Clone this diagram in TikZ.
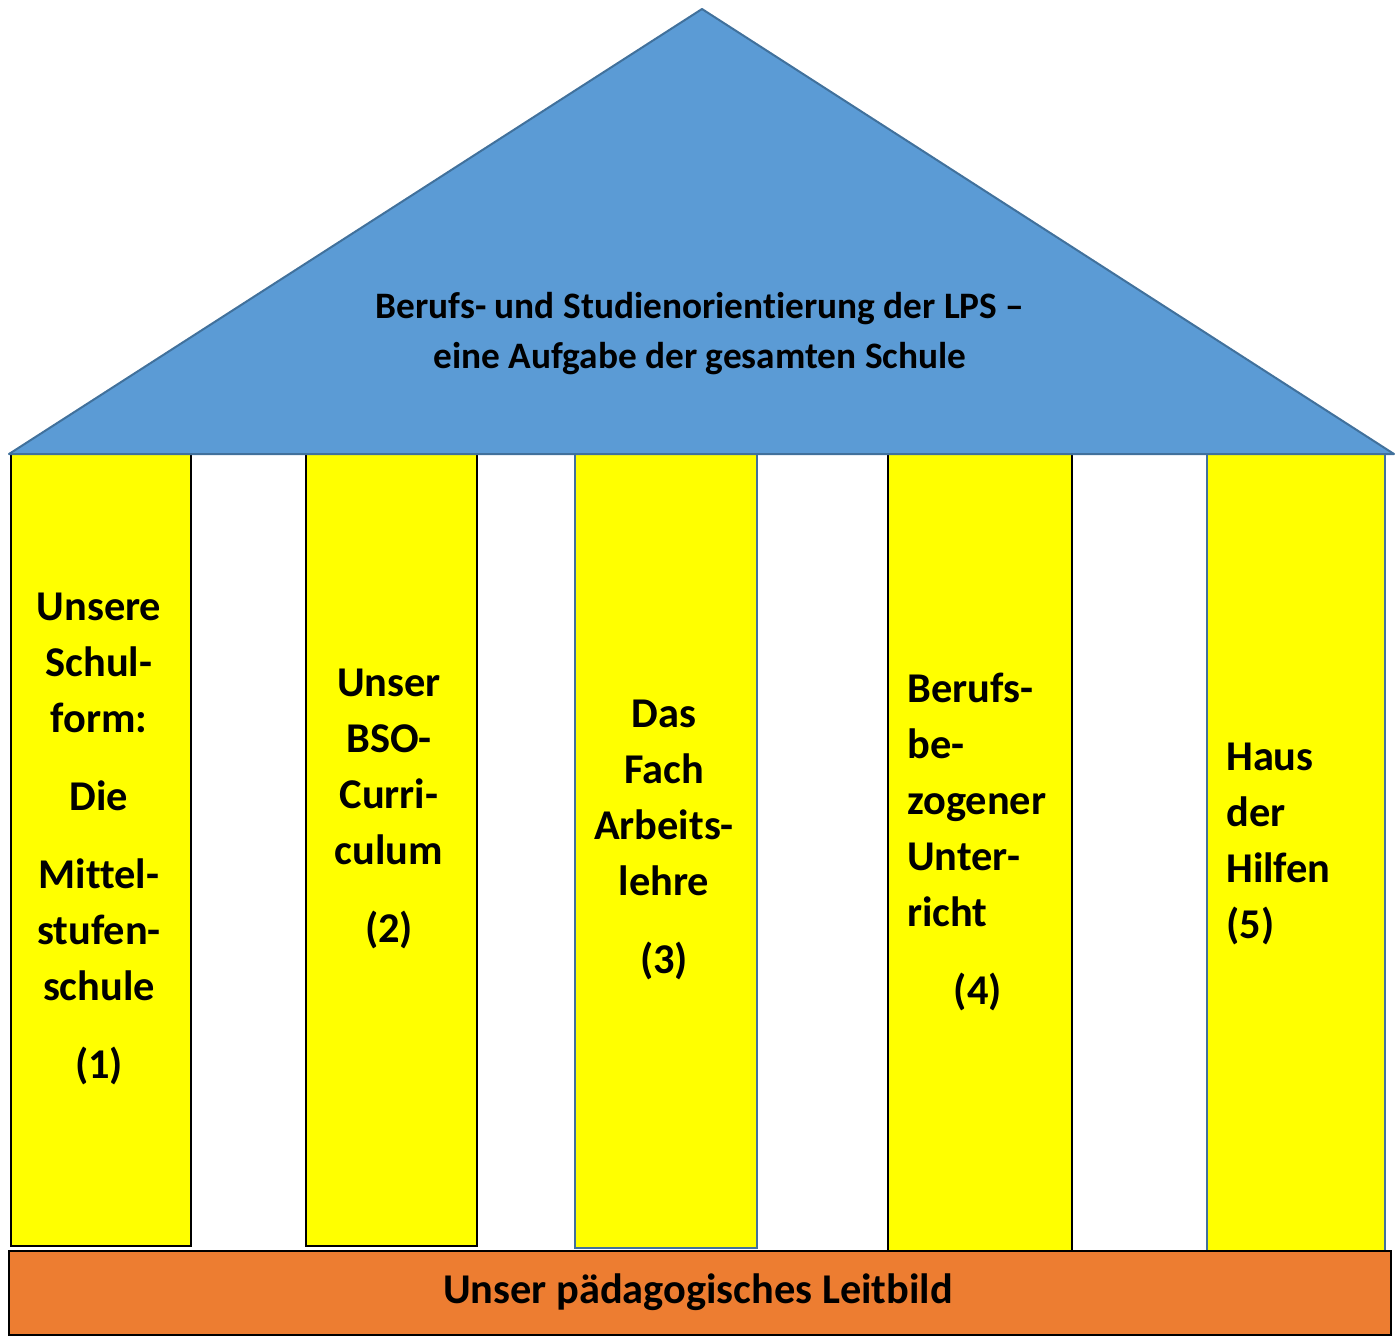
\documentclass[tikz,border=0pt]{standalone}
\usepackage{fontspec}
\setmainfont{Carlito}[Ligatures=NoCommon]
\definecolor{roofblue}{RGB}{91,155,213}
\definecolor{roofline}{RGB}{65,113,156}
\definecolor{pillaryellow}{RGB}{255,255,0}
\definecolor{baseorange}{RGB}{237,125,49}

\begin{document}
\begin{tikzpicture}[x=0.75pt,y=-0.75pt,
  pillar/.style={fill=pillaryellow,line width=1.8pt},
  pillartext/.style={font=\bfseries\fontsize{31.8}{42}\selectfont,align=center,inner sep=0pt},
  rooftext/.style={font=\bfseries\fontsize{28}{37.5}\selectfont,align=center,inner sep=0pt}]
  \useasboundingbox (0,0) rectangle (1399,1335);
  % the five pillars
  \draw[pillar,draw=black] (11,454) rectangle (191,1246);
  \draw[pillar,draw=black] (306,454) rectangle (477,1246);
  \draw[pillar,draw=roofline] (575,454) rectangle (757,1248);
  \draw[pillar,draw=black] (888,454) rectangle (1072,1251);
  \draw[pillar,draw=roofline] (1207,454) rectangle (1385,1251);
  % roof and foundation
  \draw[fill=roofblue,draw=roofline,line width=1.5pt,line join=round] (9,454) -- (702,9) -- (1394,454) -- cycle;
  \draw[fill=baseorange,line width=1.8pt] (9,1251) rectangle (1391,1335);
  \node[rooftext] (roof) at (700,334) {Berufs- und Studienorientierung der LPS –\\eine Aufgabe der gesamten Schule};
  \node[pillartext] (p1) at (99,839) {Unsere\\Schul-\\form:\\[16.5pt]Die\\[16.5pt]Mittel-\\stufen-\\schule\\[16pt](1)};
  \node[pillartext] (p2) at (389,809) {Unser\\BSO-\\Curri-\\culum\\[16pt](2)};
  \node[pillartext] (p3) at (664,840) {Das\\Fach\\Arbeits-\\lehre\\[16.5pt](3)};
  \node[pillartext,align=left,anchor=west] (p4) at (907,842) {Berufs-\\be-\\zogener\\Unter-\\richt\\[16.5pt]\hspace*{35pt}(4)};
  \node[pillartext,align=left,anchor=west] (p5) at (1226,844) {Haus\\der\\Hilfen\\(5)};
  \node[pillartext] (base) at (698,1292) {Unser pädagogisches Leitbild};
\end{tikzpicture}
\end{document}
